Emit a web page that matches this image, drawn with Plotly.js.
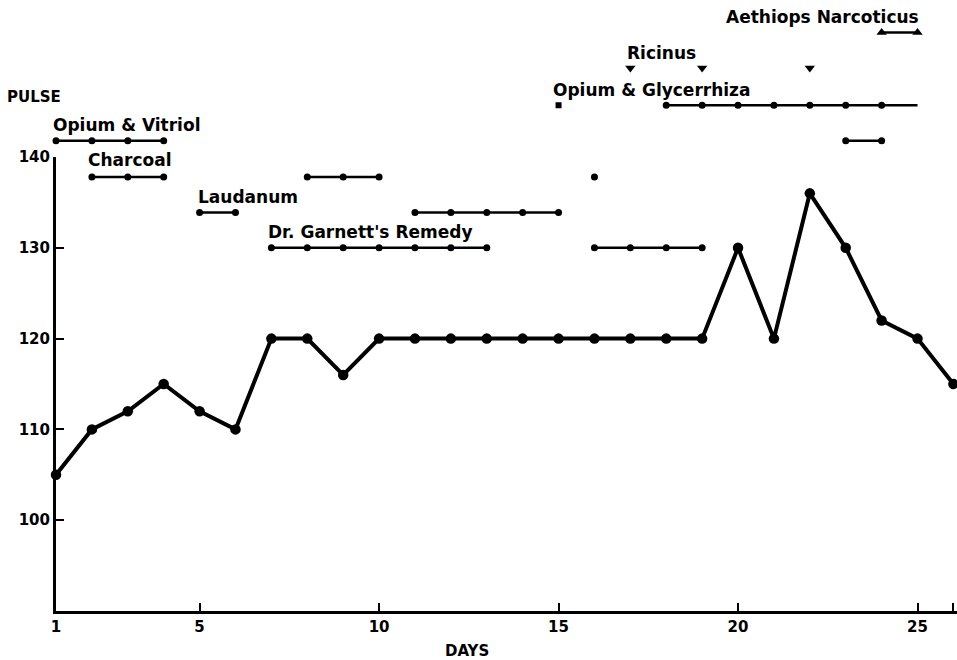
<!DOCTYPE html>
<html><head><meta charset="utf-8">
<script src="https://cdn.plot.ly/plotly-3.0.1.min.js"></script>
<style>html,body{margin:0;padding:0;background:#fff}#chart{width:957px;height:660px}</style>
</head><body><div id="chart"></div>
<script>
// Pulse by day
const days = [1,2,3,4,5,6,7,8,9,10,11,12,13,14,15,16,17,18,19,20,21,22,23,24,25,26];
const pulse = [105,110,112,115,112,110,120,120,116,120,120,120,120,120,120,120,120,120,120,130,120,136,130,122,120,115];

// Treatment periods (days; null breaks a line) and their drawing level on the pulse scale
const opVitDays = [1,2,3,4,null,23,24];
const opVitLevel = 141.8;
const charcoalDays = [2,3,4,null,8,9,10,null,16];
const charcoalLevel = 137.8;
const laudanumDays = [5,6,null,11,12,13,14,15];
const laudanumLevel = 133.9;
const garnettDays = [7,8,9,10,11,12,13,null,16,17,18,19];
const garnettLevel = 130;
const opGlyStartDay = [15];
const opGlyDays = [18,19,20,21,22,23,24,25];
const opGlyDoseDays = [18,19,20,21,22,23,24];
const opGlyLevel = 145.7;
const ricinusDays = [17,19,22];
const ricinusLevel = 149.8;
const aethiopsDays = [24,25];
const aethiopsLevel = 153.7;

const xTickVals = [1,5,10,15,20,25,26];
const xTickText = ['1','5','10','15','20','25',''];
const yTickVals = [100,110,120,130,140];

const BLK = '#000';
const FONT = 'DejaVu Sans';
const lvl = (arr, v) => arr.map(d => d === null ? null : v);

function seg(x, level, sym, size, withLine) {
  return {
    x: x, y: lvl(x, level), xaxis: 'x', yaxis: 'y2', type: 'scatter',
    mode: withLine ? 'lines+markers' : 'markers',
    line: {color: BLK, width: 2.5},
    marker: {color: BLK, size: size, symbol: sym},
    connectgaps: false, cliponaxis: false, hoverinfo: 'skip'
  };
}

const traces = [
  seg(opVitDays, opVitLevel, 'circle', 7, true),
  seg(charcoalDays, charcoalLevel, 'circle', 7, true),
  seg(laudanumDays, laudanumLevel, 'circle', 7, true),
  seg(garnettDays, garnettLevel, 'circle', 7, true),
  seg(opGlyStartDay, opGlyLevel, 'square', 6, false),
  {x: opGlyDays, y: lvl(opGlyDays, opGlyLevel), xaxis:'x', yaxis:'y2', type:'scatter', mode:'lines',
   line:{color:BLK, width:2.5}, cliponaxis:false, hoverinfo:'skip'},
  seg(opGlyDoseDays, opGlyLevel, 'circle', 7, false),
  seg(ricinusDays, ricinusLevel, 'triangle-down', 9, false),
  seg(aethiopsDays, aethiopsLevel, 'triangle-up', 9, true),
  {x: days, y: pulse, xaxis:'x', yaxis:'y', type:'scatter', mode:'lines+markers',
   line:{color:BLK, width:4}, marker:{color:BLK, size:10.5}, cliponaxis:false, hoverinfo:'skip'}
];

function lab(text, x, y, size) {
  return {text: text, x: x, y: y, xref: 'paper', yref: 'paper', xanchor: 'left', yanchor: 'middle',
          showarrow: false, font: {family: FONT, size: size || 17, color: BLK, weight: 'bold'}};
}
// pixel -> paper helpers for label placement (plot area: x 56..957, y 0..611)
const px = p => (p - 56) / 901;
const py = p => (611 - p) / 611;

const layout = {
  width: 957, height: 660,
  margin: {l: 56, r: 0, t: 0, b: 49, pad: 0},
  paper_bgcolor: '#fff', plot_bgcolor: 'rgba(0,0,0,0)',
  showlegend: false,
  xaxis: {
    range: [1, 26.1], tickvals: xTickVals, ticktext: xTickText,
    ticks: 'inside', ticklen: 8, tickwidth: 2, tickcolor: BLK,
    showline: true, linewidth: 3, linecolor: BLK, showgrid: false, zeroline: false,
    tickfont: {family: FONT, size: 15, color: BLK, weight: 'bold'}, anchor: 'y', fixedrange: true
  },
  yaxis: {
    domain: [0, 0.743], range: [90, 140], tickvals: yTickVals,
    ticks: 'inside', ticklen: 8, tickwidth: 2, tickcolor: BLK,
    showline: true, linewidth: 3, linecolor: BLK, showgrid: false, zeroline: false,
    tickfont: {family: FONT, size: 15, color: BLK, weight: 'bold'}, anchor: 'x', fixedrange: true
  },
  yaxis2: {domain: [0, 1], range: [90, 157.29], visible: false, anchor: 'x', fixedrange: true},
  annotations: [
    lab('Opium &amp; Vitriol', px(51), py(125)),
    lab('Charcoal', px(86), py(160)),
    lab('Laudanum', px(196), py(197)),
    lab("Dr. Garnett's Remedy", px(266), py(232)),
    lab('Opium &amp; Glycerrhiza', px(551), py(90)),
    lab('Ricinus', px(625), py(53)),
    lab('Aethiops Narcoticus', px(724), py(17)),
    lab('PULSE', px(5), py(97), 15),
    {text: 'DAYS', x: px(467), y: py(651), xref: 'paper', yref: 'paper', xanchor: 'center', yanchor: 'middle',
     showarrow: false, font: {family: FONT, size: 15, color: BLK, weight: 'bold'}}
  ]
};

Plotly.newPlot('chart', traces, layout, {staticPlot: true, displayModeBar: false});
</script></body></html>
